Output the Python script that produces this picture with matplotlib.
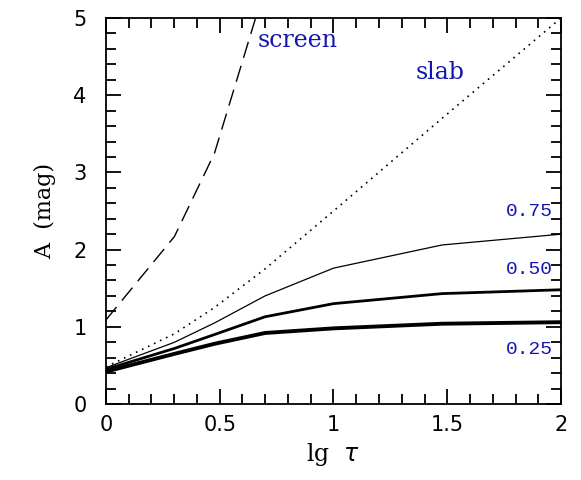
import matplotlib
matplotlib.use("Agg")
import matplotlib.pyplot as plt
from matplotlib.ticker import MultipleLocator, FormatStrFormatter

# lg tau grid (tau = 1, 2, 3, 5, 10, 30, 100)
lg_tau = [0.0, 0.301, 0.477, 0.699, 1.0, 1.477, 2.0]

# values
screen_x = [0.0, 0.301, 0.477, 0.699]
screen_a = [1.09, 2.17, 3.25, 5.4]
slab_a = [0.48, 0.91, 1.25, 1.75, 2.5, 3.7, 5.0]
mix_75 = [0.47, 0.80, 1.05, 1.40, 1.76, 2.06, 2.20]
mix_50 = [0.45, 0.72, 0.90, 1.13, 1.30, 1.43, 1.48]
mix_25 = [0.42, 0.65, 0.78, 0.92, 0.98, 1.04, 1.06]

serif = "DejaVu Serif"
mono = "Liberation Mono"

fig = plt.figure(figsize=(5.81, 4.8), dpi=100)
ax = fig.add_axes([0.1824, 0.1583, 0.7832, 0.8042])

ax.plot(screen_x, screen_a, color="black", lw=1.0, dashes=(12, 6))
ax.plot(lg_tau, slab_a, color="black", lw=1.2, linestyle=(0, (1, 3)))
ax.plot(lg_tau, mix_75, color="black", lw=0.9)
ax.plot(lg_tau, mix_50, color="black", lw=2.0)
ax.plot(lg_tau, mix_25, color="black", lw=2.8)

blue = "#1414b0"
ax.text(0.668, 4.71, "screen", color=blue, fontsize=17, family=serif, va="center")
ax.text(1.36, 4.3, "slab", color=blue, fontsize=17, family=serif, va="center")
ax.text(1.965, 2.49, "0.75", color=blue, fontsize=14, family=mono, va="center", ha="right")
ax.text(1.965, 1.74, "0.50", color=blue, fontsize=14, family=mono, va="center", ha="right")
ax.text(1.965, 0.71, "0.25", color=blue, fontsize=14, family=mono, va="center", ha="right")

ax.set_xlim(0, 2)
ax.set_ylim(0, 5)
ax.xaxis.set_major_locator(MultipleLocator(0.5))
ax.xaxis.set_minor_locator(MultipleLocator(0.1))
ax.yaxis.set_major_locator(MultipleLocator(1))
ax.yaxis.set_minor_locator(MultipleLocator(0.2))
ax.xaxis.set_major_formatter(FormatStrFormatter("%g"))
ax.yaxis.set_major_formatter(FormatStrFormatter("%g"))
ax.tick_params(which="both", direction="in", top=True, right=True, width=1.3, labelsize=15)
ax.tick_params(which="major", length=11)
ax.tick_params(which="minor", length=7)
ax.tick_params(axis="x", which="major", pad=8)
ax.tick_params(axis="y", which="major", pad=14)
for s in ax.spines.values():
    s.set_linewidth(1.3)

ax.set_xlabel(r"lg  $\tau$", fontsize=17, family=serif, labelpad=4)
ax.set_ylabel("A  (mag)", fontsize=16, family=serif, labelpad=12)

fig.savefig("out.png", dpi=100)
